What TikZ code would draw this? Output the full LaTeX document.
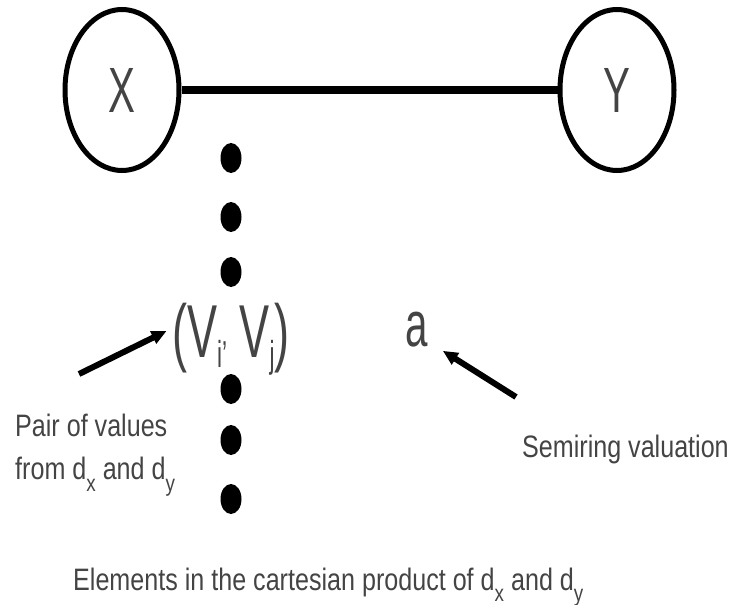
\documentclass[tikz,border=0pt]{standalone}
\usepackage{fontspec}
\setmainfont{Liberation Sans}[FakeStretch=0.81]
\newfontfamily\varfont{Liberation Sans}[FakeStretch=0.63]
\newfontfamily\pairfont{Liberation Sans}[FakeStretch=0.6]
\usepackage{tikz}
\usetikzlibrary{arrows.meta,shapes.geometric}
\definecolor{inkgray}{HTML}{444444}
\newcommand{\lowsub}[3]{\raisebox{#1}{\scalebox{#2}{#3}}}

\begin{document}
\begin{tikzpicture}[
  x=1pt, y=-1pt,
  every node/.style={text=inkgray, inner sep=0pt},
  varnode/.style={ellipse, draw=black, line width=5pt, minimum width=114pt,
                  minimum height=161pt, font=\varfont\fontsize{64}{70}\selectfont},
  valuedot/.style={ellipse, fill=black, minimum width=21pt, minimum height=30pt},
  note/.style={font=\fontsize{31}{43}\selectfont, align=left},
  pointer/.style={-{Triangle[length=15pt,width=13pt]}, line width=6pt, draw=black}
]
\useasboundingbox (0,0) rectangle (732,605);

\node[varnode] (x) at (122,90) {X};
\node[varnode] (y) at (617,90) {Y};
\draw[line width=8pt] (x) -- (y);

\foreach \n/\ypos in {1/158,2/217,3/272,4/389,5/440,6/499}
  \node[valuedot] (dot\n) at (231,\ypos) {};

\node[font=\pairfont\fontsize{75}{80}\selectfont, anchor=base west] (pair) at (172,357)
  {(V\lowsub{-10pt}{0.5}{i’} V\lowsub{-10pt}{0.5}{j})};
\node[font=\varfont\fontsize{64}{70}\selectfont, anchor=base] (val) at (417,346) {a};

\node[note, anchor=north west] (pairnote) at (15,414)
  {Pair of values\\from d\lowsub{-12pt}{0.75}{x} and d\lowsub{-12pt}{0.75}{y}};
\node[note, anchor=base west] (semnote) at (522,457) {Semiring valuation};
\node[note, anchor=base west] (prodnote) at (73,590)
  {Elements in the cartesian product of d\lowsub{-11pt}{0.75}{x} and d\lowsub{-11pt}{0.75}{y}};

\coordinate (pairtail) at (79,374);
\coordinate (semtail) at (516,397);
\draw[pointer, shorten >=6pt] (pairtail) -- (pair.170);
\draw[pointer, shorten >=17pt] (semtail) -- (val.-48);
\end{tikzpicture}
\end{document}
